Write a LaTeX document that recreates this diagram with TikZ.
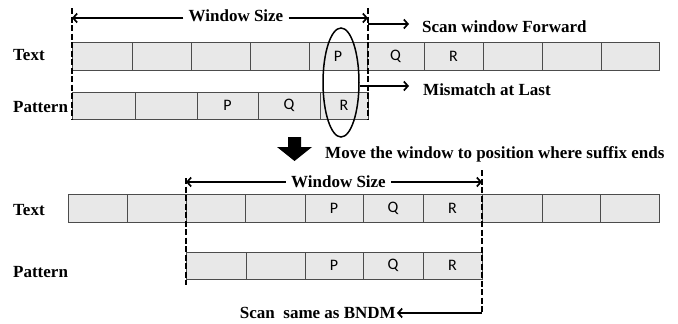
\documentclass[tikz,border=0pt]{standalone}
\usepackage{fontspec}
\setmainfont{Liberation Serif}
\newfontfamily\cellfont{Carlito}
\usetikzlibrary{arrows.meta,shapes.geometric}
\begin{document}
\begin{tikzpicture}[x=1pt,y=-1pt,
  cell/.style={draw=gray!60!black, fill=gray!18, line width=0.8pt,
    minimum height=28pt, inner sep=0pt, outer sep=0pt,
    font=\cellfont\fontsize{16}{16}\selectfont},
  lbl/.style={font=\bfseries\fontsize{17}{17}\selectfont, inner sep=0pt},
  dashline/.style={line width=2.4pt, dash pattern=on 6pt off 2.5pt},
  arr/.style={line width=1.7pt,
    -{Straight Barb[length=4pt,width=9pt,line width=1.7pt]}},
]
\useasboundingbox (0,0) rectangle (678,324);
\fill[white] (0,0) rectangle (678,324);

% ---------- before the shift ----------
\foreach \a/\b/\s [count=\i] in {72/132/{},132/191/{},191/250/{},250/309/{},
    309/367/P,367/424/Q,424/483/R,483/542/{},542/601/{},601/659/{}} {
  \pgfmathsetmacro\w{\b-\a}
  \node[cell, minimum width=\w pt] (ta\i) at ({(\a+\b)/2},56.5) {\s};
}
\foreach \a/\b/\s [count=\i] in {72/135/{},135/197/{},197/258/P,258/320/Q,320/368/R} {
  \pgfmathsetmacro\w{\b-\a}
  \node[cell, minimum width=\w pt, minimum height=27pt] (pa\i) at ({(\a+\b)/2},105.5) {\s};
}
\node[lbl, anchor=base west] (txa) at (13,60) {Text};
\node[lbl, anchor=base west] (pta) at (13,112) {Pattern};

\coordinate (d1t) at (72,8);   \coordinate (d1b) at (72,120);
\coordinate (d2t) at (368,8);  \coordinate (d2b) at (368,120);
\draw[dashline] (d1t) -- (d1b);
\draw[dashline] (d2t) -- (d2b);

\node[lbl, anchor=base, text height=6pt, text depth=0pt, inner xsep=5pt]
  (ws1) at (236,21) {Window Size};
\draw[arr] (ws1.west) -- (ws1.west -| d1t);
\draw[arr] (ws1.east) -- (ws1.east -| d2t);

\node[draw, ellipse, line width=1.5pt, minimum width=36pt, minimum height=109pt,
  inner sep=0pt] (ell) at (341,82.5) {};

\node[lbl, anchor=base west] (sf) at (422,32) {Scan window Forward};
\coordinate (sfa) at (409,24);
\draw[arr] (sfa -| d2t) -- (sfa);

\node[lbl, anchor=base west] (mm) at (423,95) {Mismatch at Last};
\coordinate (mma) at (409,86);
\draw[arr] (mma -| ell.east) -- (mma);

% ---------- the shift ----------
\fill (288,137) -- (301,137) -- (301,147) -- (312,147) -- (294.5,161)
  -- (277,147) -- (288,147) -- cycle;
\node[lbl, anchor=base west] (mv) at (325,158)
  {Move the window to position where suffix ends};

% ---------- after the shift ----------
\foreach \a/\b/\s [count=\i] in {68/127/{},127/186/{},186/245/{},245/305/{},
    305/363/P,363/423/Q,423/482/R,482/542/{},542/600/{},600/659/{}} {
  \pgfmathsetmacro\w{\b-\a}
  \node[cell, minimum width=\w pt] (tb\i) at ({(\a+\b)/2},208) {\s};
}
\foreach \a/\b/\s [count=\i] in {186/246/{},246/305/{},305/363/P,363/423/Q,423/482/R} {
  \pgfmathsetmacro\w{\b-\a}
  \node[cell, minimum width=\w pt, minimum height=27pt] (pb\i) at ({(\a+\b)/2},265.5) {\s};
}
\node[lbl, anchor=base west] (txb) at (13,215) {Text};
\node[lbl, anchor=base west] (ptb) at (13,277) {Pattern};

\coordinate (d3t) at (186,178); \coordinate (d3b) at (186,285);
\coordinate (d4t) at (482,170); \coordinate (d4b) at (482,313);
\draw[dashline] (d3t) -- (d3b);
\draw[dashline] (d4t) -- (d4b);

\node[lbl, anchor=base, text height=10pt, text depth=0pt, inner xsep=5pt]
  (ws2) at (338.5,187) {Window Size};
\draw[arr] (ws2.west) -- (ws2.west -| d3t);
\draw[arr] (ws2.east) -- (ws2.east -| d4t);

\node[lbl, anchor=base east, inner xsep=1pt] (sb) at (397,318) {Scan\ \ same as BNDM};
\draw[arr] (d4b) -- (d4b -| sb.east);
\end{tikzpicture}
\end{document}
